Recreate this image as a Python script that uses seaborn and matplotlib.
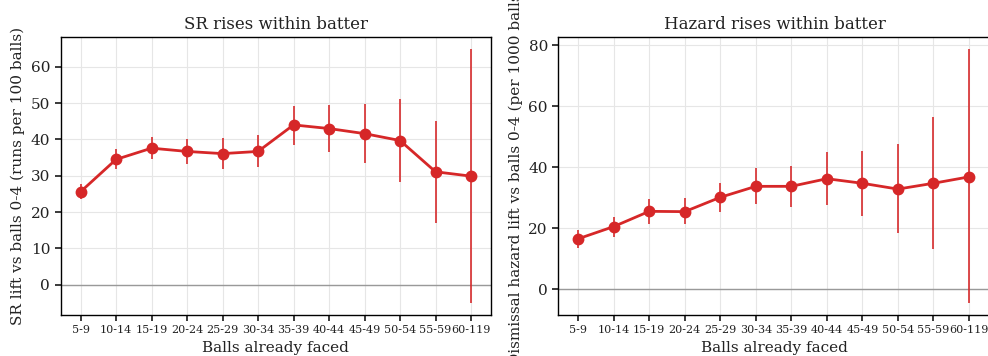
import matplotlib
matplotlib.use("Agg")
import matplotlib.pyplot as plt
import seaborn as sns
import numpy as np

bins = ["5-9", "10-14", "15-19", "20-24", "25-29", "30-34", "35-39",
        "40-44", "45-49", "50-54", "55-59", "60-119"]

sr_lift = [25.6, 34.5, 37.6, 36.7, 36.1, 36.7, 44.0, 43.0, 41.6, 39.7, 31.1, 29.9]
sr_lo = [23.5, 31.8, 34.5, 33.2, 31.8, 32.5, 38.5, 36.5, 33.4, 28.3, 17.1, -5.1]
sr_hi = [27.8, 37.3, 40.7, 40.2, 40.5, 41.2, 49.3, 49.5, 49.7, 51.2, 45.1, 64.8]

hz_lift = [16.5, 20.5, 25.5, 25.4, 30.1, 33.7, 33.7, 36.2, 34.7, 32.8, 34.7, 36.8]
hz_lo = [13.6, 17.2, 21.3, 21.2, 25.4, 27.8, 27.0, 27.6, 24.1, 18.3, 13.1, -4.7]
hz_hi = [19.4, 23.7, 29.5, 29.8, 34.9, 39.7, 40.5, 45.1, 45.3, 47.6, 56.4, 78.7]

sns.set_theme(style="ticks")
plt.rcParams["font.family"] = ["DejaVu Serif"]
plt.rcParams["text.color"] = "#222222"
plt.rcParams["axes.labelcolor"] = "#222222"
plt.rcParams["xtick.color"] = "#222222"
plt.rcParams["ytick.color"] = "#222222"

RED = "#d62728"

fig = plt.figure(figsize=(9.88, 3.56), dpi=100)
ax1 = fig.add_axes([0.0614, 0.1152, 0.4355, 0.781])
ax2 = fig.add_axes([0.5651, 0.1152, 0.4375, 0.781])

panels = [
    (ax1, sr_lift, sr_lo, sr_hi, "SR rises within batter",
     "SR lift vs balls 0-4 (runs per 100 balls)", 0.56),
    (ax2, hz_lift, hz_lo, hz_hi, "Hazard rises within batter",
     "Dismissal hazard lift vs balls 0-4 (per 1000 balls)", 0.61),
]

for ax, vals, lo, hi, title, ylabel, rpad in panels:
    ax.axhline(0, color="#999999", linewidth=1.0, zorder=1)
    x = np.arange(len(bins))
    ax.vlines(x, lo, hi, color=RED, linewidth=1.3, alpha=0.9, zorder=2)
    sns.pointplot(x=bins, y=vals, color=RED, errorbar=None, ax=ax,
                  markersize=7, linewidth=2, zorder=3)
    ax.grid(True, which="major", axis="both", color="#e6e6e6",
            linewidth=0.8)
    ax.set_axisbelow(True)
    ax.set_xlim(-0.56, len(bins) - 1 + rpad)
    ax.set_title(title, fontsize=12)
    ax.set_ylabel(ylabel, fontsize=11)
    ax.set_xlabel("Balls already faced", fontsize=11)
    ax.tick_params(axis="x", labelsize=8, length=4)
    ax.tick_params(axis="y", labelsize=11, length=4)
    for s in ax.spines.values():
        s.set_visible(True)
        s.set_color("black")
        s.set_linewidth(1.0)

ax1.set_ylim(-8.3, 68.2)
ax1.set_yticks([0, 10, 20, 30, 40, 50, 60])
ax2.set_ylim(-8.5, 82.7)
ax2.set_yticks([0, 20, 40, 60, 80])

fig.savefig("out.png", dpi=100)
